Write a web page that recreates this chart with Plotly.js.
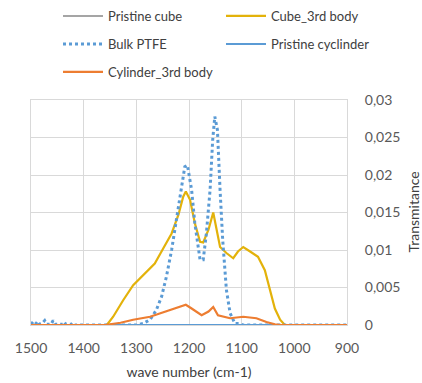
<!DOCTYPE html>
<html>
<head>
<meta charset="utf-8">
<script src="https://cdn.plot.ly/plotly-3.0.1.min.js"></script>
<style>
  html, body { margin: 0; padding: 0; background: #fff; }
  #chart { width: 422px; height: 383px; }
</style>
</head>
<body>
<div id="chart"></div>
<script>
// FTIR spectra: wavenumber (cm-1) vs transmitance

const pristineCubeX = [1500, 900];
const pristineCubeY = [0, 0];

const cube3rdX = [1500, 1356, 1344, 1325, 1306, 1287, 1265, 1249, 1233, 1220, 1211, 1206, 1198, 1189, 1179, 1173, 1163, 1154, 1148, 1141, 1129, 1116, 1107, 1097, 1084, 1069, 1056, 1046, 1037, 1027, 1018, 900];
const cube3rdY = [0, 0, 0.0011, 0.0033, 0.0053, 0.0067, 0.0082, 0.0102, 0.0122, 0.0147, 0.0171, 0.0178, 0.0167, 0.0136, 0.0111, 0.0110, 0.0127, 0.0150, 0.0127, 0.0104, 0.0096, 0.0089, 0.0098, 0.0104, 0.0098, 0.0091, 0.0073, 0.0047, 0.0022, 0.0007, 0, 0];

const bulkPtfeX = [1500, 1496, 1492, 1487, 1483, 1478, 1474, 1470, 1462, 1458, 1454, 1440, 1437, 1434, 1423, 1420, 1417, 1300, 1287, 1274, 1262, 1252, 1243, 1233, 1224, 1214, 1208, 1203, 1195, 1189, 1182, 1179, 1173, 1167, 1160, 1155, 1151, 1146, 1141, 1136, 1129, 1122, 1113, 1103, 1098, 900];
const bulkPtfeY = [0.0001, 0.0004, 0.0001, 0.0005, 0.0001, 0.0003, 0.0006, 0.0001, 0.0001, 0.0006, 0.0001, 0.0001, 0.0004, 0.0001, 0.0001, 0.0003, 0, 0, 0.0002, 0.0007, 0.0020, 0.0038, 0.0064, 0.0100, 0.0140, 0.0184, 0.0211, 0.0213, 0.0180, 0.0136, 0.0096, 0.0087, 0.0087, 0.0122, 0.0180, 0.0247, 0.0278, 0.0260, 0.0180, 0.0113, 0.0047, 0.0016, 0.0002, 0.0002, 0, 0];

const pristineCylX = [1500, 900];
const pristineCylY = [0, 0];

const cyl3rdX = [1500, 1360, 1330, 1306, 1274, 1243, 1224, 1206, 1195, 1176, 1163, 1154, 1145, 1122, 1097, 1072, 1053, 1037, 1025, 900];
const cyl3rdY = [0, 0, 0.0003, 0.0007, 0.0011, 0.0018, 0.0022, 0.0027, 0.0022, 0.0013, 0.0018, 0.0024, 0.0013, 0.0009, 0.0011, 0.0009, 0.0004, 0.0001, 0, 0];

const xTicks = [1500, 1400, 1300, 1200, 1100, 1000, 900];
const yTicks = [0, 0.005, 0.01, 0.015, 0.02, 0.025, 0.03];
const yTickText = ['0', '0,005', '0,01', '0,015', '0,02', '0,025', '0,03'];

const FONT = 'Lato, "Open Sans", sans-serif';

const traces = [
  { name: 'Pristine cube', x: pristineCubeX, y: pristineCubeY, mode: 'lines',
    line: { color: '#A5A5A5', width: 2 }, legend: 'legend' },
  { name: 'Cube_3rd body', x: cube3rdX, y: cube3rdY, mode: 'lines',
    line: { color: '#E3B20A', width: 2.2 }, legend: 'legend2' },
  { name: 'Bulk PTFE', x: bulkPtfeX, y: bulkPtfeY, mode: 'lines',
    line: { color: '#5B9BD5', width: 3, dash: 'dot' }, legend: 'legend3' },
  { name: 'Pristine cyclinder', x: pristineCylX, y: pristineCylY, mode: 'lines',
    line: { color: '#5B9BD5', width: 2 }, legend: 'legend4' },
  { name: 'Cylinder_3rd body', x: cyl3rdX, y: cyl3rdY, mode: 'lines',
    line: { color: '#ED7D31', width: 2.2 }, legend: 'legend5' }
];

// one legend box per entry, laid out on a two-column grid
function legendAt(xPix, yPix) {
  return {
    orientation: 'v',
    xref: 'container', yref: 'container',
    x: xPix / 422, xanchor: 'left',
    y: 1 - yPix / 383, yanchor: 'middle',
    bgcolor: 'rgba(0,0,0,0)',
    borderwidth: 0,
    itemwidth: 40,
    font: { family: FONT, size: 13, color: '#404040' }
  };
}

const layout = {
  width: 422, height: 383,
  margin: { l: 31, r: 75, t: 100, b: 58, autoexpand: false },
  paper_bgcolor: '#ffffff', plot_bgcolor: '#ffffff',
  font: { family: FONT, color: '#595959' },
  showlegend: true,
  legend: legendAt(58, 16),
  legend2: legendAt(221, 16),
  legend3: legendAt(58, 44),
  legend4: legendAt(221, 44),
  legend5: legendAt(58, 72),
  xaxis: {
    range: [1500, 900],
    tickvals: xTicks,
    ticktext: xTicks.map(String),
    showgrid: true, gridcolor: '#D9D9D9', gridwidth: 1,
    zeroline: false,
    showline: true, mirror: true, linecolor: '#D9D9D9', linewidth: 1,
    ticks: '', ticklabelstandoff: 10,
    tickfont: { family: FONT, size: 14, color: '#595959' },
    title: { text: 'wave number (cm-1)', font: { family: FONT, size: 14, color: '#404040' } }
  },
  yaxis: {
    side: 'right',
    range: [0, 0.03],
    tickvals: yTicks,
    ticktext: yTickText,
    showgrid: true, gridcolor: '#D9D9D9', gridwidth: 1,
    zeroline: false,
    showline: true, mirror: true, linecolor: '#D9D9D9', linewidth: 1,
    ticks: '', ticklabelstandoff: 14,
    tickfont: { family: FONT, size: 14, color: '#595959' }
  },
  // vertical axis title, set to the right of the tick labels
  annotations: [{
    text: 'Transmitance',
    xref: 'paper', yref: 'paper',
    x: 1, xshift: 66, xanchor: 'center',
    y: 0.5, yanchor: 'middle',
    textangle: -90,
    showarrow: false,
    font: { family: FONT, size: 14, color: '#404040' }
  }]
};

Plotly.newPlot('chart', traces, layout, { displayModeBar: false, staticPlot: true });
</script>
</body>
</html>
